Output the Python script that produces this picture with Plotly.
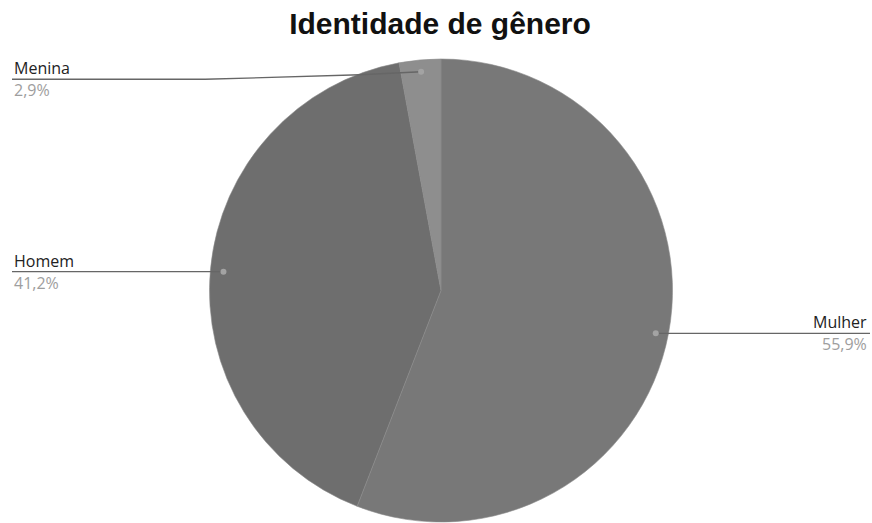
import math
import plotly.graph_objects as go

# ---- data ----
categories = ["Mulher", "Homem", "Menina"]
values = [55.9, 41.2, 2.9]
pct_labels = ["55,9%", "41,2%", "2,9%"]
colors = ["#787878", "#6e6e6e", "#8e8e8e"]

title_text = "Identidade de gênero"

# ---- layout geometry (pixels) ----
W, H = 872, 523
CX, CY, R = 441, 290.5, 231.5
# label-dot placement (slightly elliptical in the reference)
DCX, DCY, DRX, DRY = 441, 292.5, 218.5, 221.6


def px(x):
    return x / W


def py(y):
    return 1 - y / H


fig = go.Figure()
fig.add_trace(go.Pie(
    labels=categories,
    values=values,
    sort=False,
    direction="clockwise",
    rotation=0,
    textinfo="none",
    hoverinfo="label+percent",
    marker=dict(colors=colors, line=dict(color="#8a8a8a", width=0.6)),
    domain=dict(x=[px(CX - R), px(CX + R)], y=[py(CY + R), py(CY - R)]),
    showlegend=False,
))

total = sum(values)
cum = 0.0
shapes = []
annotations = []
for cat, v, pl in zip(categories, values, pct_labels):
    mid = (cum + v / 2) / total * 2 * math.pi
    cum += v
    dx = DCX + DRX * math.sin(mid)
    dy = DCY - DRY * math.cos(mid)
    right = math.sin(mid) > 0
    if right:
        line_y = dy
        pts = [(dx, dy), (870, line_y)]
        tx, anchor = 869, "right"
    else:
        if abs(math.cos(mid)) > 0.9:
            line_y = dy + 7.5
            pts = [(dx, dy), (CX - 81, dy + 3), (205, line_y), (12, line_y)]
        else:
            line_y = dy
            pts = [(dx, dy), (12, line_y)]
        tx, anchor = 12, "left"
    for (x0, y0), (x1, y1) in zip(pts[:-1], pts[1:]):
        shapes.append(dict(type="line", xref="paper", yref="paper",
                           x0=px(x0), y0=py(y0), x1=px(x1), y1=py(y1),
                           line=dict(color="#666666", width=1.4)))
    shapes.append(dict(type="circle", xref="paper", yref="paper",
                       x0=px(dx - 3), x1=px(dx + 3), y0=py(dy + 3), y1=py(dy - 3),
                       fillcolor="#a3a3a3", line=dict(width=0)))
    annotations.append(dict(text=cat, x=px(tx), y=py(line_y - 11), xref="paper", yref="paper",
                            xanchor=anchor, yanchor="middle", showarrow=False,
                            font=dict(family="Open Sans", size=16, color="#222222")))
    annotations.append(dict(text=pl, x=px(tx), y=py(line_y + 11), xref="paper", yref="paper",
                            xanchor=anchor, yanchor="middle", showarrow=False,
                            font=dict(family="Open Sans", size=16, color="#9e9e9e")))

fig.update_layout(
    width=W, height=H,
    margin=dict(l=0, r=0, t=0, b=0),
    paper_bgcolor="white",
    plot_bgcolor="white",
    title=dict(text="<b>" + title_text + "</b>", x=px(440), xanchor="center",
               y=py(23), yanchor="middle", xref="paper", yref="container",
               font=dict(family="Liberation Sans", size=30, color="#111111")),
    shapes=shapes,
    annotations=annotations,
)

fig.write_html("out.html", config={"displayModeBar": False},
               post_script="document.body.style.margin='0';document.body.style.overflow='hidden';")
